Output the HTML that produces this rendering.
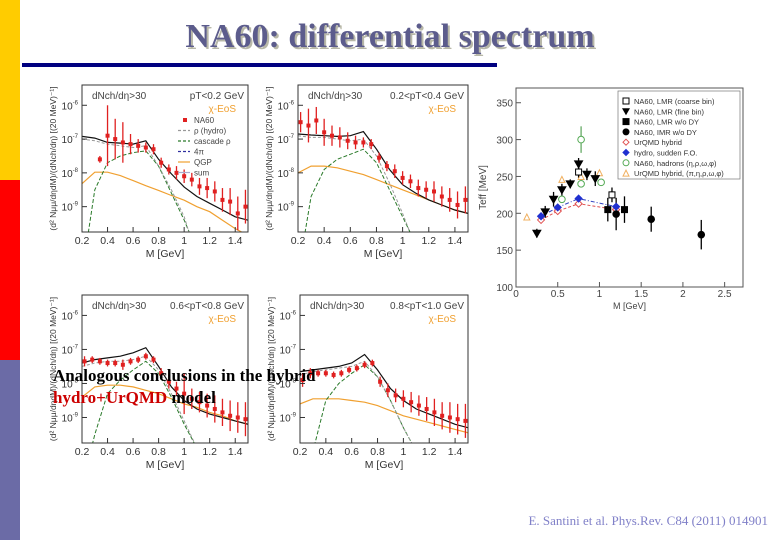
<!DOCTYPE html>
<html><head><meta charset="utf-8"><style>
html,body{margin:0;padding:0;background:#fff;}
svg{display:block;font-family:"Liberation Sans",sans-serif;}
</style></head><body>
<svg id="s" width="780" height="540" viewBox="0 0 780 540" xmlns="http://www.w3.org/2000/svg">
<rect x="0" y="0" width="20" height="180" fill="#ffcc00"/>
<rect x="0" y="180" width="20" height="180" fill="#ff0000"/>
<rect x="0" y="360" width="20" height="180" fill="#6b6ba6"/>
<text x="392" y="49" text-anchor="middle" font-family="Liberation Serif,serif" font-weight="bold" font-size="34" fill="#b8b8a8">NA60: differential spectrum</text>
<text x="390" y="47" text-anchor="middle" font-family="Liberation Serif,serif" font-weight="bold" font-size="34" fill="#5c5c8c">NA60: differential spectrum</text>
<rect x="22" y="63" width="475" height="4" fill="#000080"/>
<g id="panels"></g>
<g id="teff"></g>
<text x="53" y="381" font-family="Liberation Serif,serif" font-weight="bold" font-size="17" fill="#000">Analogous conclusions in the hybrid</text>
<text x="53" y="403" font-family="Liberation Serif,serif" font-weight="bold" font-size="17"><tspan fill="#cc0000">hydro+UrQMD</tspan><tspan fill="#000"> model</tspan></text>
<text x="768" y="525" text-anchor="end" font-family="Liberation Serif,serif" font-size="13" fill="#8080c8">E. Santini et al.  Phys.Rev. C84 (2011) 014901</text>
</svg>
<script>
// shared mass grids
const curveM = [0.2,0.3,0.4,0.5,0.6,0.7,0.8,0.9,1.0,1.1,1.2,1.3,1.4,1.5];
const dataM = [0.22,0.28,0.34,0.40,0.46,0.52,0.58,0.64,0.70,0.76,0.82,0.88,0.94,1.00,1.06,1.12,1.18,1.24,1.30,1.36,1.42,1.48];
// panel 1 (pT<0.2)
const p1Data = [null,null,-7.6,-6.9,-7.0,-7.1,-7.15,-7.2,-7.25,-7.3,-7.7,-7.9,-8.0,-8.1,-8.2,-8.4,-8.45,-8.55,-8.8,-8.85,-9.2,-9.0];
const p1Err = [0,0,0.1,0.9,0.6,0.6,0.3,0.2,0.15,0.15,0.15,0.15,0.2,0.2,0.2,0.25,0.3,0.3,0.35,0.4,0.5,0.5];
const p1Sum = [-6.92,-6.97,-7.1,-7.12,-7.15,-7.05,-7.6,-8.03,-8.42,-8.7,-8.9,-9.1,-9.3,-9.4];
const p1Qgp = [-8.32,-7.98,-7.98,-8.08,-8.23,-8.38,-8.52,-8.67,-8.81,-9.0,-9.15,-9.4,-9.65,-9.85];
const p1Rho = [-7.0,-7.05,-7.15,-7.2,-7.25,-7.2,-7.8,-8.5,-9.3,-10.5,null,null,null,null];
const p1Cas = [-11,-8.5,-7.7,-7.5,-7.4,-7.35,-7.8,-8.6,-9.4,-10.3,null,null,null,null];
// panel 2 (0.2<pT<0.4)
const p2Data = [-6.5,-6.6,-6.45,-6.8,-6.9,-6.95,-7.05,-7.1,-7.1,-7.15,-7.55,-7.8,-7.95,-8.15,-8.25,-8.45,-8.5,-8.55,-8.7,-8.8,-8.95,-8.8];
const p2Err = [0.3,0.5,0.4,0.4,0.3,0.3,0.25,0.2,0.15,0.15,0.15,0.15,0.2,0.2,0.2,0.25,0.25,0.3,0.3,0.35,0.4,0.4];
const p2Sum = [-6.85,-6.88,-6.9,-6.92,-6.9,-6.78,-7.3,-7.9,-8.35,-8.6,-8.8,-8.95,-9.1,-9.2];
const p2Qgp = [-8.0,-7.8,-7.8,-7.85,-7.95,-8.05,-8.2,-8.35,-8.5,-8.65,-8.8,-8.95,-9.1,-9.2];
const p2Rho = [-6.9,-6.95,-6.95,-7.0,-7.05,-7.0,-7.5,-8.3,-9.2,-10.2,null,null,null,null];
const p2Cas = [-11,-8.7,-7.9,-7.6,-7.45,-7.3,-7.7,-8.5,-9.3,-10.1,null,null,null,null];
// panel 3 (0.6<pT<0.8)
const p3Data = [-7.35,-7.3,-7.35,-7.4,-7.4,-7.45,-7.35,-7.3,-7.2,-7.3,-7.7,-7.95,-8.15,-8.3,-8.45,-8.55,-8.65,-8.75,-8.85,-8.95,-9.0,-9.05];
const p3Err = [0.15,0.1,0.1,0.1,0.1,0.15,0.1,0.1,0.1,0.1,0.15,0.2,0.2,0.6,0.3,0.3,0.35,0.4,0.4,0.45,0.45,0.5];
const p3Sum = [-7.4,-7.3,-7.25,-7.2,-7.1,-6.95,-7.5,-8.1,-8.5,-8.75,-8.9,-9.0,-9.1,-9.2];
const p3Qgp = [-8.4,-8.1,-8.05,-8.05,-8.1,-8.2,-8.3,-8.45,-8.6,-8.7,-8.85,-8.95,-9.1,-9.2];
const p3Rho = [-7.5,-7.4,-7.35,-7.35,-7.3,-7.2,-7.6,-8.3,-9.1,-9.9,null,null,null,null];
const p3Cas = [-11,-9.5,-8.3,-7.9,-7.6,-7.35,-7.7,-8.4,-9.2,-9.9,null,null,null,null];
// panel 4 (0.8<pT<1.0)
const p4Data = [-7.9,-7.7,-7.7,-7.7,-7.75,-7.7,-7.6,-7.55,-7.45,-7.4,-7.95,-8.2,-8.35,-8.45,-8.55,-8.65,-8.75,-8.85,-8.95,-9.0,-9.05,-9.1];
const p4Err = [0.2,0.15,0.1,0.1,0.1,0.1,0.1,0.1,0.1,0.1,0.15,0.2,0.2,0.25,0.3,0.3,0.35,0.4,0.4,0.45,0.45,0.5];
const p4Sum = [-7.65,-7.6,-7.55,-7.5,-7.4,-7.15,-7.6,-8.15,-8.5,-8.75,-8.9,-9.05,-9.2,-9.3];
const p4Qgp = [-8.6,-8.45,-8.45,-8.45,-8.5,-8.55,-8.65,-8.8,-8.95,-9.05,-9.15,-9.25,-9.35,-9.45];
const p4Rho = [-7.75,-7.65,-7.6,-7.55,-7.5,-7.35,-7.8,-8.5,-9.3,-10,null,null,null,null];
const p4Cas = [-11,-10,-8.5,-8.0,-7.7,-7.45,-7.8,-8.5,-9.3,-10,null,null,null,null];
const decadeTicks = [-6,-7,-8,-9];
const massTicks = [0.2,0.4,0.6,0.8,1.0,1.2,1.4];
const massTickLabels = ["0.2","0.4","0.6","0.8","1","1.2","1.4"];

// Teff chart data
const coarseM = [0.75,1.15], coarseT = [256,225], coarseE = [8,10];
const fineM = [0.25,0.35,0.45,0.55,0.65,0.75,0.85,0.95], fineT = [173,202,219,232,240,267,253,247], fineE = [6,8,10,8,6,8,8,10];
const lmrM = [1.1,1.3], lmrT = [205,205], lmrE = [16,18];
const imrM = [1.2,1.62,2.22], imrT = [199,192,171], imrE = [22,17,20];
const urqmdM = [0.3,0.5,0.75,1.2], urqmdT = [191,203,213,205];
const hydroM = [0.3,0.5,0.75,1.2], hydroT = [196,208,220,209];
const hadM = [0.55,0.78,0.78,1.02], hadT = [219,240,300,242], hadE=[0,0,18,0];
const urqHadM = [0.13,0.55,0.78,1.0], urqHadT = [195,246,250,255];
const teffTicks = [100,150,200,250,300,350];
const teffXTicks = [0,0.5,1,1.5,2,2.5];
const teffXLabels = ["0","0.5","1","1.5","2","2.5"];

const NS="http://www.w3.org/2000/svg";
function mk(parent,tag,attrs,text){const e=document.createElementNS(NS,tag);for(const k in attrs)e.setAttribute(k,attrs[k]);if(text!==undefined)e.textContent=text;parent.appendChild(e);return e;}

let clipId=0;
function panel(x0,y0,w,h,lbl,data,err,sum,qgp,rho,cas,showLegend){
  const root=document.getElementById('panels');
  const g=mk(root,'g',{});
  
  
  const xs=m=>x0+(m-0.2)/(1.5-0.2)*w;
  const ys=l=>y0+(-5.4-l)/(9.75-5.4)*h;
  const cid='c'+(clipId++);
  const cp=mk(g,'clipPath',{id:cid});mk(cp,'rect',{x:x0,y:y0,width:w,height:h});
  const inner=mk(g,'g',{'clip-path':'url(#'+cid+')'});
  function line(arr,col,dash,sw,name){
    let d='';let pen=false;
    arr.forEach((v,i)=>{if(v===null){pen=false;return;}d+=(pen?'L':'M')+xs(curveM[i]).toFixed(1)+' '+ys(v).toFixed(1);pen=true;});
    const p=mk(inner,'path',{d:d,fill:'none',stroke:col,'stroke-width':sw,'stroke-dasharray':dash});
    
    
  }
  line(qgp,'#f0a030','none',1.2,'qgp-curve');
  line(cas,'#2a7a2a','4 2',1,'cascade-rho-curve');
  line(rho,'#999','3 2',1,'rho-hydro-curve');
  line(sum,'#111','none',1.2,'sum-curve');
  data.forEach((v,i)=>{
    if(v===null)return;
    const x=xs(dataM[i]);
    const e=mk(inner,'line',{x1:x,x2:x,y1:ys(v+err[i]),y2:ys(v-err[i]),stroke:'#e02020','stroke-width':1.3});
    
    
    const c=mk(inner,'rect',{x:x-2,y:ys(v)-2,width:4,height:4,fill:'#e02020'});
    
    
  });
  const fr=mk(g,'rect',{x:x0,y:y0,width:w,height:h,fill:'none',stroke:'#333','stroke-width':1});
  
  
  decadeTicks.forEach(d=>{
    const y=ys(d);
    mk(g,'line',{x1:x0,x2:x0+5,y1:y,y2:y,stroke:'#333'});
    const t=mk(g,'text',{x:x0-4,y:y+4,'text-anchor':'end','font-size':10,fill:'#333'});
    
    
    t.textContent='10';
    mk(t,'tspan',{dy:-5,'font-size':6},String(d));
  });
  massTicks.forEach((m,i)=>{
    const x=xs(m);
    mk(g,'line',{x1:x,x2:x,y1:y0+h,y2:y0+h-5,stroke:'#333'});
    const t=mk(g,'text',{x:x,y:y0+h+12,'text-anchor':'middle','font-size':10.5,fill:'#333'},massTickLabels[i]);
    
    
  });
  const xt=mk(g,'text',{x:x0+w/2,y:y0+h+25,'text-anchor':'middle','font-size':10.5,fill:'#333'},'M [GeV]');
  
  
  const yt=mk(g,'text',{x:0,y:0,'text-anchor':'middle','font-size':8.5,fill:'#333',transform:`translate(${x0-26},${y0+h/2}) rotate(-90)`},'(d² Nμμ/dηdM)/(dNch/dη) [(20 MeV)⁻¹]');
  
  
  const t1=mk(g,'text',{x:x0+10,y:y0+14,'font-size':10,fill:'#444'},'dNch/dη>30');
  
  
  const t2=mk(g,'text',{x:x0+w-4,y:y0+14,'text-anchor':'end','font-size':10,fill:'#444'},lbl);
  
  
  const t3=mk(g,'text',{x:x0+w-12,y:y0+27,'text-anchor':'end','font-size':10,fill:'#f0a030'},'χ-EoS');
  
  
  if(showLegend){
    const L=[['NA60','#e02020'],['ρ (hydro)','#999'],['cascade ρ','#2a7a2a'],['4π','#3030a0'],['QGP','#f0a030'],['sum','#aac']];
    L.forEach((l,i)=>{
      const y=y0+37+i*10.5;
      if(i===0) mk(g,'rect',{x:x0+101,y:y-4,width:4,height:4,fill:l[1]});
      else mk(g,'line',{x1:x0+96,x2:x0+108,y1:y-2,y2:y-2,stroke:l[1],'stroke-width':1.2,'stroke-dasharray':(i<4?'3 2':'none')});
      const t=mk(g,'text',{x:x0+112,y:y+1,'font-size':8,fill:'#444'},l[0]);
      
      
    });
  }
}
panel(82,85,166,147,'pT<0.2 GeV',p1Data,p1Err,p1Sum,p1Qgp,p1Rho,p1Cas,true);
panel(298,85,170,147,'0.2<pT<0.4 GeV',p2Data,p2Err,p2Sum,p2Qgp,p2Rho,p2Cas,false);
panel(82,295,166,148,'0.6<pT<0.8 GeV',p3Data,p3Err,p3Sum,p3Qgp,p3Rho,p3Cas,false);
panel(300,295,168,148,'0.8<pT<1.0 GeV',p4Data,p4Err,p4Sum,p4Qgp,p4Rho,p4Cas,false);

// Teff chart
(function(){
  const g=document.getElementById('teff');
  
  
  const X0=516,X1=743,Y0=88,Y1=287;
  const xs=m=>X0+m/2.72*(X1-X0);
  const ys=t=>Y1-(t-100)/(370-100)*(Y1-Y0);
  const fr=mk(g,'rect',{x:X0,y:Y0,width:X1-X0,height:Y1-Y0,fill:'none',stroke:'#555'});
  
  
  teffTicks.forEach(t=>{
    mk(g,'line',{x1:X0,x2:X0+5,y1:ys(t),y2:ys(t),stroke:'#555'});
    const tx=mk(g,'text',{x:X0-3,y:ys(t)+4,'text-anchor':'end','font-size':10,fill:'#444'},String(t));
    
    
  });
  teffXTicks.forEach((m,i)=>{
    mk(g,'line',{x1:xs(m),x2:xs(m),y1:Y1,y2:Y1-5,stroke:'#555'});
    const tx=mk(g,'text',{x:xs(m),y:Y1+10,'text-anchor':'middle','font-size':10,fill:'#444'},teffXLabels[i]);
    
    
  });
  const xt=mk(g,'text',{x:(X0+X1)/2,y:Y1+22,'text-anchor':'middle','font-size':9,fill:'#444'},'M [GeV]');
  
  
  const yt=mk(g,'text',{x:0,y:0,'text-anchor':'middle','font-size':10,fill:'#444',transform:`translate(${X0-30},${(Y0+Y1)/2}) rotate(-90)`},'Teff [MeV]');
  
  
  function poly(M,T,col,dash){
    const d=M.map((m,i)=>(i?'L':'M')+xs(m).toFixed(1)+' '+ys(T[i]).toFixed(1)).join('');
    const p=mk(g,'path',{d:d,fill:'none',stroke:col,'stroke-dasharray':dash,'stroke-width':1});
    
    
  }
  poly(urqmdM,urqmdT,'#e05050','3 2');
  poly(hydroM,hydroT,'#3040c0','4 2 1 2');
  function errs(M,T,E,col){M.forEach((m,i)=>{if(!E[i])return;const l=mk(g,'line',{x1:xs(m),x2:xs(m),y1:ys(T[i]+E[i]),y2:ys(T[i]-E[i]),stroke:col,'stroke-width':1.3});
    
    });}
  function marks(M,T,shape,col,fill,name){
    M.forEach((m,i)=>{
      const x=xs(m),y=ys(T[i]);let e;
      if(shape==='sq') e=mk(g,'rect',{x:x-3,y:y-3,width:6,height:6,fill:fill,stroke:col});
      else if(shape==='circ') e=mk(g,'circle',{cx:x,cy:y,r:3.3,fill:fill,stroke:col});
      else if(shape==='tdown') e=mk(g,'path',{d:`M${x-4} ${y-3}L${x+4} ${y-3}L${x} ${y+4}Z`,fill:fill,stroke:col});
      else if(shape==='tup') e=mk(g,'path',{d:`M${x-3} ${y+3}L${x+3} ${y+3}L${x} ${y-3}Z`,fill:fill,stroke:col});
      else e=mk(g,'path',{d:`M${x-3.5} ${y}L${x} ${y-3.5}L${x+3.5} ${y}L${x} ${y+3.5}Z`,fill:fill,stroke:col});
      
      
    });
  }
  errs(fineM,fineT,fineE,'#000');errs(coarseM,coarseT,coarseE,'#000');errs(lmrM,lmrT,lmrE,'#000');errs(imrM,imrT,imrE,'#000');errs(hadM,hadT,hadE,'#6a6');
  marks(urqHadM,urqHadT,'tup','#f0b060','#fff','urqmd-hadron-point');
  marks(hadM,hadT,'circ','#5a5','#fff','na60-hadron-point');
  marks(urqmdM,urqmdT,'dia','#e05050','#fff','urqmd-hybrid-point');
  marks(hydroM,hydroT,'dia','#2030d0','#2030d0','hydro-point');
  marks(fineM,fineT,'tdown','#000','#000','lmr-fine-point');
  marks(coarseM,coarseT,'sq','#000','#fff','lmr-coarse-point');
  marks(lmrM,lmrT,'sq','#000','#000','lmr-wo-dy-point');
  marks(imrM,imrT,'circ','#000','#000','imr-point');
  const lg=[['sq','#000','#fff','NA60, LMR  (coarse bin)'],['tdown','#000','#000','NA60, LMR (fine bin)'],['sq','#000','#000','NA60, LMR w/o DY'],['circ','#000','#000','NA60, IMR w/o DY'],['dia','#e05050','#fff','UrQMD hybrid'],['dia','#2030d0','#2030d0','hydro, sudden F.O.'],['circ','#5a5','#fff','NA60, hadrons (η,ρ,ω,φ)'],['tup','#f0b060','#fff','UrQMD hybrid, (π,η,ρ,ω,φ)']];
  mk(g,'rect',{x:618,y:91,width:122,height:88,fill:'#fff',stroke:'#777','stroke-width':0.7});
  lg.forEach((l,i)=>{
    const y=101+i*10.3;
    const x=626;let e;
    if(l[0]==='sq') e=mk(g,'rect',{x:x-3,y:y-3,width:6,height:6,fill:l[2],stroke:l[1]});
    else if(l[0]==='circ') e=mk(g,'circle',{cx:x,cy:y,r:3,fill:l[2],stroke:l[1]});
    else if(l[0]==='tdown') e=mk(g,'path',{d:`M${x-4} ${y-3}L${x+4} ${y-3}L${x} ${y+4}Z`,fill:l[2]});
    else if(l[0]==='tup') e=mk(g,'path',{d:`M${x-3} ${y+3}L${x+3} ${y+3}L${x} ${y-3}Z`,fill:l[2],stroke:l[1]});
    else e=mk(g,'path',{d:`M${x-3} ${y}L${x} ${y-3}L${x+3} ${y}L${x} ${y+3}Z`,fill:l[2],stroke:l[1]});
    const t=mk(g,'text',{x:634,y:y+3,'font-size':7.5,fill:'#333'},l[3]);
    
    
  });
})();
</script>
</body></html>
